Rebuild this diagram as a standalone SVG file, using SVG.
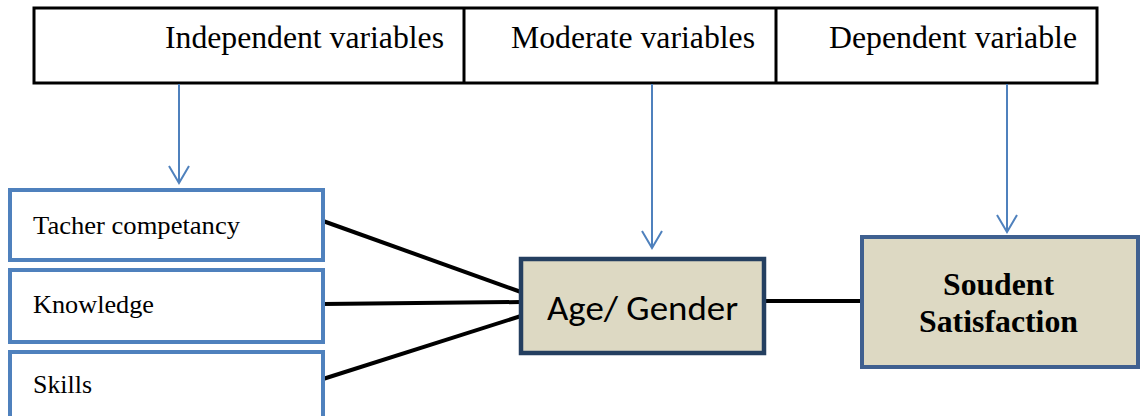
<svg xmlns="http://www.w3.org/2000/svg" width="1142" height="416" viewBox="0 0 1142 416">
<style>
.hdr{font-family:"Liberation Serif","Times New Roman",serif;font-size:31px;fill:#000}
.lbl{font-family:"Liberation Serif","Times New Roman",serif;font-size:25px;fill:#000}
.iv{fill:#fff;stroke:#4F81BD;stroke-width:4}
.blue{stroke:#4F81BD;stroke-width:2;fill:none}
.blk{stroke:#000;stroke-width:4;fill:none}
.sat{font-family:"Liberation Serif","Times New Roman",serif;font-weight:bold;font-size:31px;fill:#000}
</style>
<g id="header">
<rect x="34" y="8" width="1063" height="75" fill="#fff" stroke="#000" stroke-width="3"/>
<line x1="464" y1="8" x2="464" y2="83" stroke="#000" stroke-width="3"/>
<line x1="776" y1="8" x2="776" y2="83" stroke="#000" stroke-width="3"/>
<text class="hdr" x="165" y="48" textLength="279" lengthAdjust="spacingAndGlyphs">Independent variables</text>
<text class="hdr" x="511" y="48" textLength="244" lengthAdjust="spacingAndGlyphs">Moderate variables</text>
<text class="hdr" x="829" y="48" textLength="248" lengthAdjust="spacingAndGlyphs">Dependent variable</text>
</g>
<g id="connectors">
<line class="blue" x1="179" y1="84" x2="179" y2="183"/>
<polyline class="blue" points="169,166 179,183 189,166"/>
<line class="blue" x1="652" y1="84" x2="652" y2="248"/>
<polyline class="blue" points="642,231 652,248 662,231"/>
<line class="blue" x1="1007" y1="84" x2="1007" y2="232"/>
<polyline class="blue" points="997,215 1007,232 1017,215"/>
<line class="blk" x1="323" y1="221" x2="521" y2="292"/>
<line class="blk" x1="323" y1="304" x2="521" y2="302"/>
<line class="blk" x1="323" y1="379" x2="521" y2="316"/>
<line class="blk" x1="766" y1="301" x2="861" y2="301"/>
</g>
<g id="n-tacher">
<rect class="iv" x="10" y="190" width="313" height="70"/>
<text class="lbl" x="33" y="234" textLength="207" lengthAdjust="spacingAndGlyphs">Tacher competancy</text>
</g>
<g id="n-knowledge">
<rect class="iv" x="10" y="270" width="313" height="72"/>
<text class="lbl" x="33" y="313" textLength="121" lengthAdjust="spacingAndGlyphs">Knowledge</text>
</g>
<g id="n-skills">
<rect class="iv" x="10" y="352" width="313" height="70"/>
<text class="lbl" x="33" y="393" textLength="59" lengthAdjust="spacingAndGlyphs">Skills</text>
</g>
<g id="n-age">
<rect x="521" y="259" width="243" height="94" fill="#DDD9C3" stroke="#243F60" stroke-width="4.5"/>
<text x="547" y="320" textLength="191" lengthAdjust="spacingAndGlyphs" font-family="Carlito,'Liberation Sans','Open Sans',sans-serif" font-size="35" fill="#000">Age/ Gender</text>
</g>
<g id="n-satisfaction">
<rect x="862" y="237" width="276" height="130" fill="#DDD9C3" stroke="#3F6090" stroke-width="4"/>
<text class="sat" x="943" y="295" textLength="111" lengthAdjust="spacingAndGlyphs">Soudent</text>
<text class="sat" x="919" y="332" textLength="159" lengthAdjust="spacingAndGlyphs">Satisfaction</text>
</g>
</svg>
